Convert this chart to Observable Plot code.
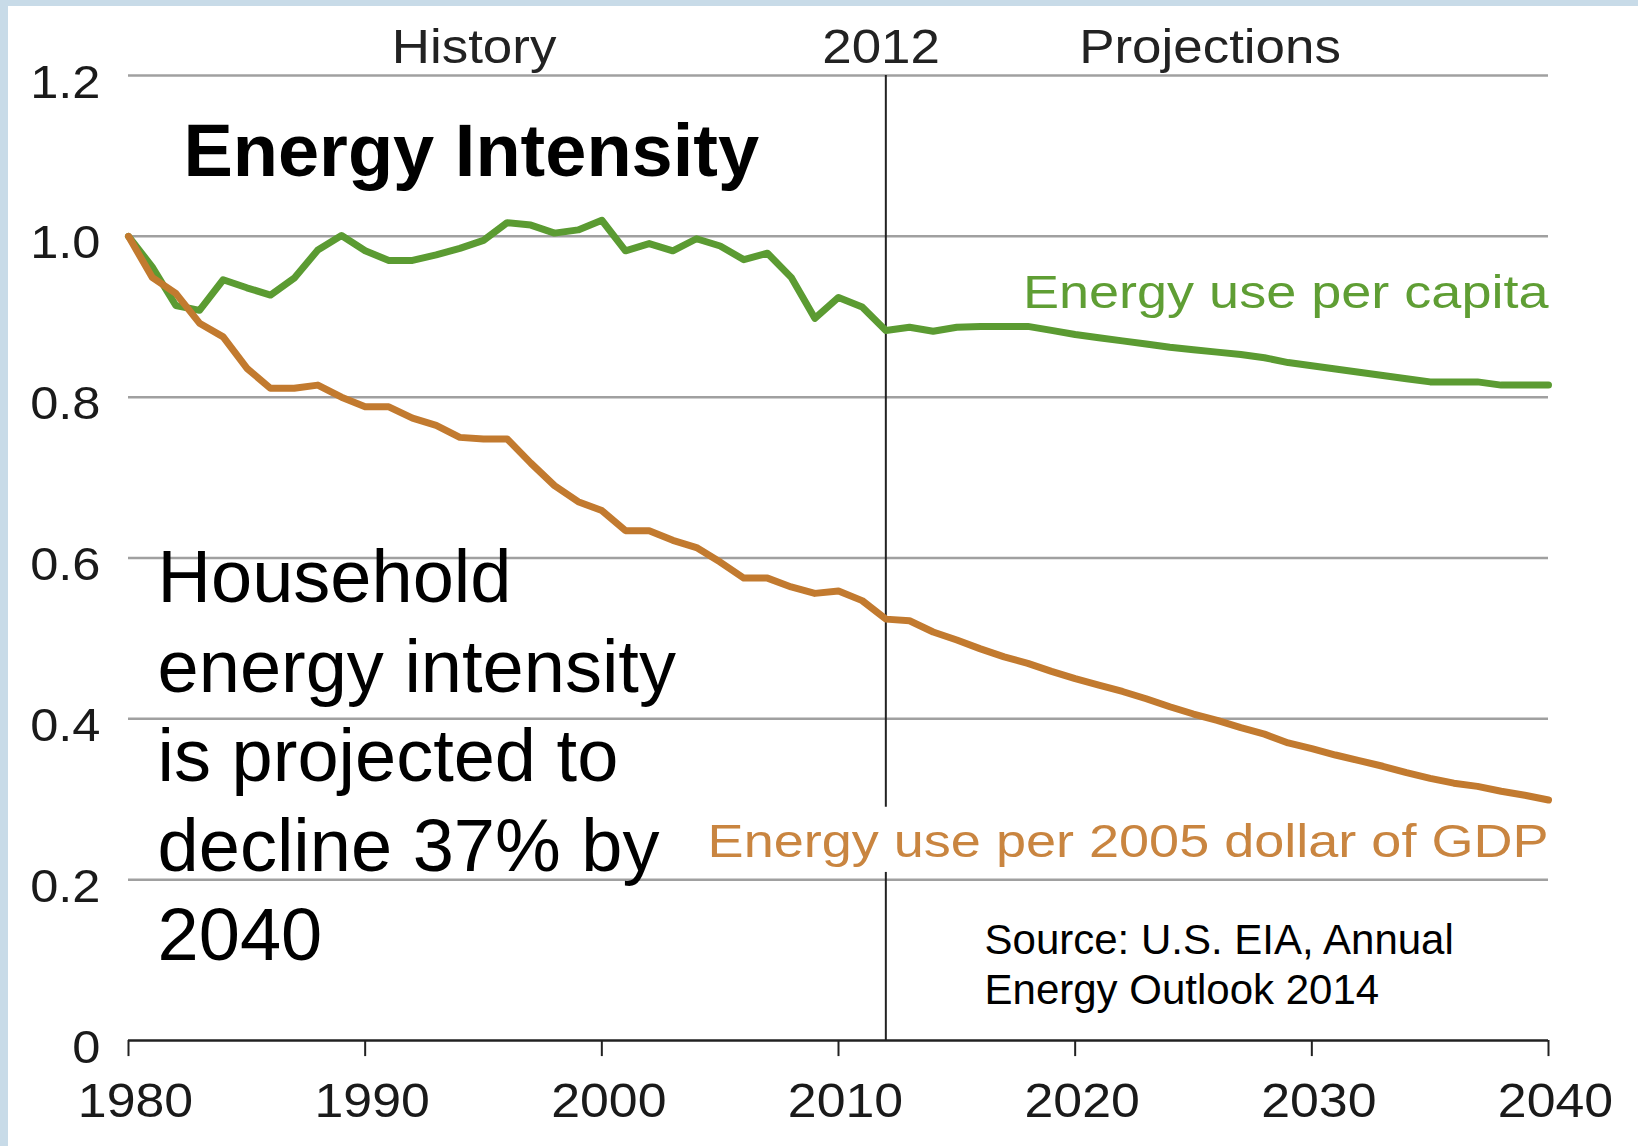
<!DOCTYPE html>
<html>
<head>
<meta charset="utf-8">
<script src="https://cdn.jsdelivr.net/npm/d3@7"></script>
<script src="https://cdn.jsdelivr.net/npm/@observablehq/plot@0.6"></script>
<style>
  html, body { margin: 0; padding: 0; }
  body { width: 1638px; height: 1146px; overflow: hidden; background: #c8dbe8; position: relative; }
  #panel { position: absolute; left: 8px; top: 6px; right: 0; bottom: 0; background: #ffffff; }
  #chart { position: absolute; left: 0; top: 0; }
</style>
</head>
<body>
<div id="panel"></div>
<div id="chart"></div>
<script>
// ---- Data ----
const years = [
  1980, 1981, 1982, 1983, 1984, 1985, 1986, 1987, 1988, 1989,
  1990, 1991, 1992, 1993, 1994, 1995, 1996, 1997, 1998, 1999,
  2000, 2001, 2002, 2003, 2004, 2005, 2006, 2007, 2008, 2009,
  2010, 2011, 2012, 2013, 2014, 2015, 2016, 2017, 2018, 2019,
  2020, 2021, 2022, 2023, 2024, 2025, 2026, 2027, 2028, 2029,
  2030, 2031, 2032, 2033, 2034, 2035, 2036, 2037, 2038, 2039, 2040
];
const perCapita = [
  1.000, 0.962, 0.914, 0.908, 0.946, 0.936, 0.927, 0.948, 0.983, 1.001,
  0.982, 0.970, 0.970, 0.977, 0.985, 0.995, 1.017, 1.014, 1.004, 1.008,
  1.020, 0.982, 0.991, 0.982, 0.997, 0.988, 0.971, 0.979, 0.949, 0.898,
  0.924, 0.912, 0.883, 0.887, 0.882, 0.887, 0.888, 0.888, 0.888, 0.883,
  0.878, 0.874, 0.870, 0.866, 0.862, 0.859, 0.856, 0.853, 0.849, 0.843,
  0.839, 0.835, 0.831, 0.827, 0.823, 0.819, 0.819, 0.819, 0.815, 0.815, 0.815
];
const perGDP = [
  1.000, 0.949, 0.929, 0.892, 0.875, 0.836, 0.811, 0.811, 0.815, 0.800,
  0.788, 0.788, 0.774, 0.765, 0.750, 0.748, 0.748, 0.718, 0.690, 0.670,
  0.659, 0.634, 0.634, 0.622, 0.613, 0.595, 0.575, 0.575, 0.564, 0.556,
  0.559, 0.547, 0.524, 0.522, 0.508, 0.498, 0.487, 0.477, 0.469, 0.459,
  0.450, 0.442, 0.434, 0.425, 0.415, 0.406, 0.398, 0.389, 0.381, 0.370,
  0.363, 0.355, 0.348, 0.341, 0.333, 0.326, 0.320, 0.316, 0.310, 0.305, 0.299
];
const xTicks = [1980, 1990, 2000, 2010, 2020, 2030, 2040];
const yTicks = [0, 0.2, 0.4, 0.6, 0.8, 1.0, 1.2];
const yTickLabels = ["0", "0.2", "0.4", "0.6", "0.8", "1.0", "1.2"];
const gridValues = [0.2, 0.4, 0.6, 0.8, 1.0, 1.2];
const baseYear = 2012;
const seriesNames = ["Energy use per capita", "Energy use per 2005 dollar of GDP"];
const titleText = "Energy Intensity";
const noteText = "Household\nenergy intensity\nis projected to\ndecline 37% by\n2040";
const sourceText = "Source: U.S. EIA, Annual\nEnergy Outlook 2014";

// ---- Build table ----
const rows = years.map((year, i) => ({year, perCapita: perCapita[i], perGDP: perGDP[i]}));
const yTickRows = yTicks.map((v, i) => ({v, label: yTickLabels[i]}));

const FONT = "Liberation Sans, Arial, Helvetica, sans-serif";
const GREEN = "#5b9b32";
const ORANGE = "#c27a2f";

const chart = Plot.plot({
  width: 1638,
  height: 1146,
  marginTop: 75,
  marginRight: 90,
  marginBottom: 106,
  marginLeft: 128,
  style: {background: "transparent", fontFamily: FONT},
  x: {domain: [1980, 2040], axis: null},
  y: {domain: [0, 1.2], axis: null},
  marks: [
    // gridlines
    Plot.ruleY(gridValues, {stroke: "#a0a0a0", strokeWidth: 2.5}),
    // 2012 divider (gap where the GDP label sits)
    Plot.ruleX([baseYear], {y1: 0, y2: 0.209, stroke: "#222", strokeWidth: 2}),
    Plot.ruleX([baseYear], {y1: 0.290, y2: 1.2, stroke: "#222", strokeWidth: 2}),
    // series lines
    Plot.line(rows, {x: "year", y: "perCapita", stroke: GREEN, strokeWidth: 7, strokeLinejoin: "round", strokeLinecap: "round"}),
    Plot.line(rows, {x: "year", y: "perGDP", stroke: ORANGE, strokeWidth: 7, strokeLinejoin: "round", strokeLinecap: "round"}),
    // x axis baseline and ticks
    Plot.ruleY([0], {stroke: "#222", strokeWidth: 2.5}),
    Plot.ruleX(xTicks, {y1: 0, y2: -0.02, stroke: "#222", strokeWidth: 2}),
    // x tick labels
    Plot.text(xTicks, {x: d => d, frameAnchor: "bottom", text: d => String(d), lineAnchor: "bottom", dx: 7, dy: 76,
      fontSize: 48, fill: "#1a1a1a", textAnchor: "middle"}),
    // y tick labels
    Plot.text(yTickRows, {y: "v", frameAnchor: "left", text: "label", textAnchor: "end", lineAnchor: "bottom",
      dx: -28, dy: 22, fontSize: 46, fill: "#1a1a1a"}),
    // period labels
    Plot.text(["History"], {x: 1994.6, frameAnchor: "top", text: d => d, lineAnchor: "bottom", dy: -13,
      fontSize: 49, fill: "#222"}),
    Plot.text([String(baseYear)], {x: 2011.8, frameAnchor: "top", text: d => d, lineAnchor: "bottom", dy: -13,
      fontSize: 49, fill: "#222"}),
    Plot.text(["Projections"], {x: 2025.7, frameAnchor: "top", text: d => d, lineAnchor: "bottom", dy: -13,
      fontSize: 49, fill: "#222"}),
    // series labels
    Plot.text([seriesNames[0]], {x: 2040, y: 0.9115, text: d => d, textAnchor: "end", lineAnchor: "bottom",
      fontSize: 47, fill: "#5f9e34"}),
    Plot.text([seriesNames[1]], {x: 2040, y: 0.2276, text: d => d, textAnchor: "end", lineAnchor: "bottom",
      fontSize: 47, fill: "#c98540"}),
    // annotations
    Plot.text([titleText], {x: 1982.32, y: 1.0756, text: d => d, textAnchor: "start", lineAnchor: "bottom",
      fontSize: 74, fontWeight: "bold", fill: "#000"}),
    Plot.text([noteText], {x: 1981.23, y: 0.0995, text: d => d, textAnchor: "start", lineAnchor: "bottom",
      lineHeight: 1.21, fontSize: 74, fill: "#000"}),
    Plot.text([sourceText], {x: 2016.17, y: 0.046, text: d => d, textAnchor: "start", lineAnchor: "bottom",
      lineHeight: 1.19, fontSize: 42, fill: "#000"})
  ]
});

// horizontal stretch for the chart-native labels (the original graphic was widened),
// keyed by font size of the label group
const stretch = {"48": 1.08, "49": 1.08, "46": 1.10, "47": 1.15};
chart.querySelectorAll("text").forEach(t => {
  const holder = t.closest("[font-size]");
  if (!holder) return;
  const s = stretch[String(parseFloat(holder.getAttribute("font-size")))];
  if (!s) return;
  let tr = t.getAttribute("transform");
  if (!tr) {
    const x = t.getAttribute("x") || 0, y = t.getAttribute("y") || 0;
    t.removeAttribute("x");
    tr = `translate(${x},${y})`;
  }
  t.setAttribute("transform", `${tr} scale(${s},1)`);
});

document.getElementById("chart").appendChild(chart);
</script>
</body>
</html>
